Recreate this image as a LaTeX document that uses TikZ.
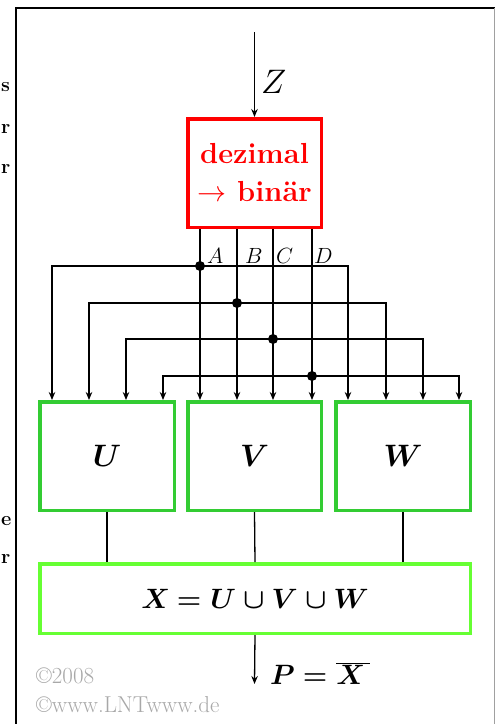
\RequirePackage{fix-cm}
\documentclass[tikz,border=0pt]{standalone}
\usepackage{fontspec}
\usetikzlibrary{arrows.meta,calc,positioning}
\definecolor{Ink}{HTML}{000000}
\definecolor{Signal}{HTML}{FF0000}
\definecolor{Leaf}{HTML}{33CC33}
\definecolor{Lime}{HTML}{66FF33}
\definecolor{Edge}{HTML}{A0A0A0}
\definecolor{Stamp}{HTML}{A8A8A8}
\tikzset{
  coder/.style={
    draw=Signal, line width=3.5pt, text=Signal, align=center,
    minimum width=133.5pt, minimum height=108.5pt, inner sep=0pt,
    font=\fontsize{29}{38}\selectfont\bfseries
  },
  subset/.style={
    draw=Leaf, line width=3.5pt, minimum width=134.5pt,
    minimum height=108.5pt, font=\fontsize{31}{36}\selectfont\boldmath
  },
  union/.style={
    draw=Lime, line width=3.5pt, minimum width=430.5pt,
    minimum height=69.5pt, font=\fontsize{28}{32}\selectfont\boldmath
  },
  wire/.style={line width=1.3pt, draw=Ink},
  flow/.style={-{Stealth[length=8pt,width=6.5pt]}, line width=1.3pt, draw=Ink},
  joint/.style={circle, fill=Ink, inner sep=0pt, minimum size=10pt},
  bitlabel/.style={anchor=base west, inner sep=0pt, font=\fontsize{22}{24}\selectfont},
  stamp/.style={anchor=base west, inner sep=0pt, text=Stamp, font=\fontsize{23}{25}\selectfont}
}

\begin{document}
\begin{tikzpicture}[x=1pt,y=-1pt]
    \fill[white] (0,0) rectangle (495,724);
    \useasboundingbox (0,0) rectangle (495,724);

    % page text at the left edge
    \foreach \t/\y in {s/91,r/133,r/173,e/525,r/563}
      \node[anchor=base west, inner sep=0pt, font=\fontsize{20}{22}\selectfont\bfseries] at (1,\y) {\t};

    % frame
    \draw[line width=2pt] (15.5,724) -- (15.5,8) -- (495,8);
    \draw[Edge, line width=1pt] (494.5,8) -- (494.5,724);

    % converter
    \node[coder] (coder) at (254.5,173) {dezimal\\$\rightarrow$ binär};
    \coordinate (zin) at (254.5,32);
    \draw[flow] (zin) -- (coder.north);
    \node[anchor=base west, inner sep=0pt, font=\fontsize{34}{36}\selectfont] (zlab) at (261,93) {$Z$};

    % the three subsets
    \node[subset] (bu) at (107,456) {$U$};
    \node[subset, minimum width=133.5pt] (bv) at (254.5,456) {$V$};
    \node[subset] (bw) at (403,456) {$W$};

    % union
    \node[union] (or) at (255,598.5) {$X\hspace{-2pt}=U\cup V\cup W$};
    \draw[wire] (bu.south) -- (bu.south |- or.north);
    \draw[wire] (bv.south) -- (or.north);
    \draw[wire] (bw.south) -- (bw.south |- or.north);

    % bits A..D to the subsets
    \foreach \b/\x/\y/\l/\r in {A/200/266/52/348, B/237/303/89/386,
                              C/273/339/126/423, D/312/376/163/459}{
      \coordinate (j\b) at (\x,\y);
      \coordinate (u\b) at (\l,\y);
      \coordinate (w\b) at (\r,\y);
      \draw[wire] (coder.south -| j\b) -- (j\b);
      \draw[flow] (j\b) -- (j\b |- bv.north);
      \draw[flow] (j\b) -- (u\b) -- (u\b |- bu.north);
      \draw[flow] (j\b) -- (w\b) -- (w\b |- bw.north);
      \node[joint] (d\b) at (j\b) {};
    }
    \node[bitlabel] (lA) at (207,263) {$A$};
    \node[bitlabel] (lB) at (245,263) {$B$};
    \node[bitlabel] (lC) at (276,263) {$C$};
    \node[bitlabel] (lD) at (314,263) {$D$};

    % output
    \coordinate (pout) at (254.5,684);
    \draw[flow] (or.south) -- (pout);
    \node[anchor=base west, inner sep=0pt, font=\fontsize{28}{30}\selectfont\boldmath] (plab) at (270,684) {$P\hspace{-1pt}=\overline{X\,}$};

    \node[stamp] (c1) at (36,683) {©2008};
    \node[stamp] (c2) at (36,712) {©www.LNTwww.de};
  \end{tikzpicture}
\end{document}
